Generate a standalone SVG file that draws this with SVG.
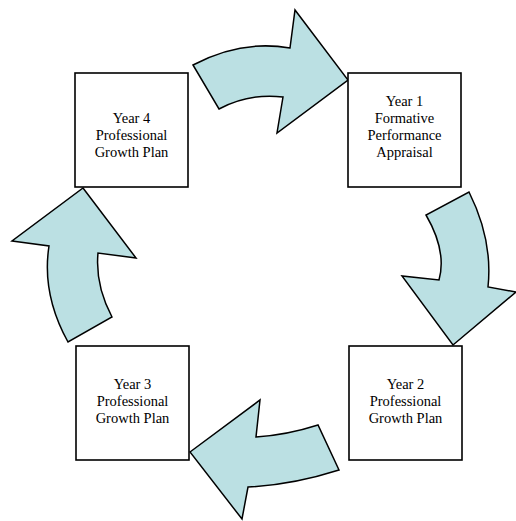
<svg xmlns="http://www.w3.org/2000/svg" width="516" height="521" viewBox="0 0 516 521">
<style>
.arrow{fill:#BBE0E3;stroke:#000;stroke-width:1.5;stroke-linejoin:miter}
.box{fill:#fff;stroke:#000;stroke-width:1.6}
.lbl{font-family:"Liberation Serif","Times New Roman",serif;font-size:14.5px;fill:#000;text-anchor:middle}
</style>
<rect width="516" height="521" fill="#fff"/>
<g id="connectors">
<path class="arrow" d="M193,65 Q241,39.5 290,48 L295,10 L348,80 L277,133 L283,97 Q249,93 219,109 Z"/>
<path class="arrow" d="M469,192 Q493,240 488,287 L516,292 L453,345 L402,276 L439,280 Q447,251 426,215 Z"/>
<path class="arrow" d="M190,452 L260,400 L256,437 Q287,435 318,425 L339,470 Q292,485 248,487 L242,519 Z"/>
<path class="arrow" d="M83,188 L136,258 L98,253 Q95,285 112,317 L68,342 Q41.5,294 49,246 L12,241 Z"/>
</g>
<g id="year1">
<rect class="box" x="348" y="73" width="113" height="114"/>
<text class="lbl" x="404.5" y="106">Year 1</text>
<text class="lbl" x="404.5" y="123">Formative</text>
<text class="lbl" x="404.5" y="140">Performance</text>
<text class="lbl" x="404.5" y="157">Appraisal</text>
</g>
<g id="year2">
<rect class="box" x="349" y="346" width="113" height="114"/>
<text class="lbl" x="405.5" y="389">Year 2</text>
<text class="lbl" x="405.5" y="406">Professional</text>
<text class="lbl" x="405.5" y="423">Growth Plan</text>
</g>
<g id="year3">
<rect class="box" x="76" y="346" width="113" height="114"/>
<text class="lbl" x="132.5" y="389">Year 3</text>
<text class="lbl" x="132.5" y="406">Professional</text>
<text class="lbl" x="132.5" y="423">Growth Plan</text>
</g>
<g id="year4">
<rect class="box" x="75" y="73" width="113" height="114"/>
<text class="lbl" x="131.5" y="123">Year 4</text>
<text class="lbl" x="131.5" y="140">Professional</text>
<text class="lbl" x="131.5" y="157">Growth Plan</text>
</g>
</svg>
